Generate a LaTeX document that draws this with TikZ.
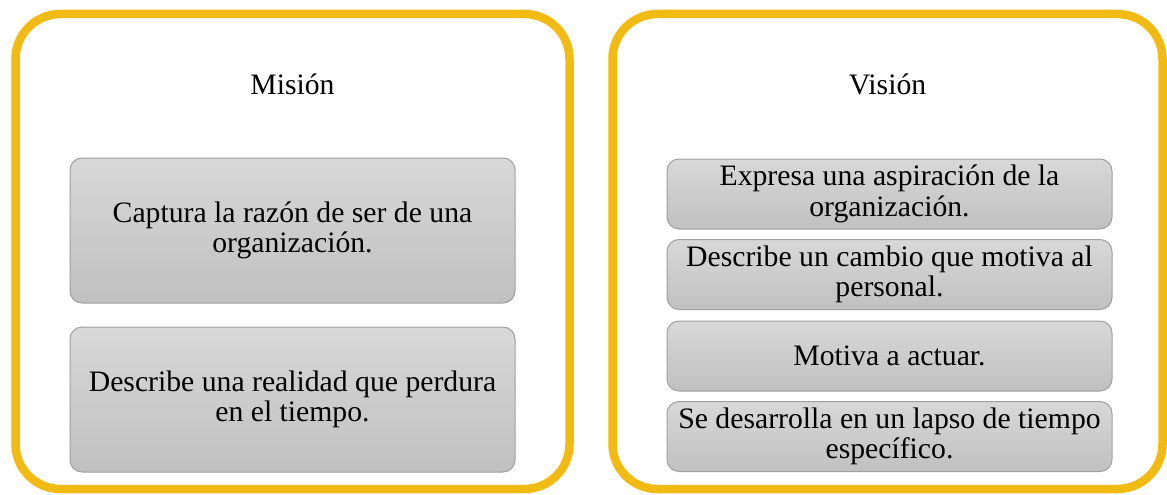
\documentclass[tikz,border=0pt]{standalone}
\usepackage{fontspec}
\setmainfont{Liberation Serif}
\definecolor{ylw}{RGB}{242,187,19}
\definecolor{gtop}{RGB}{216,216,216}
\definecolor{gbot}{RGB}{192,192,192}
\definecolor{bgray}{RGB}{160,160,160}
\begin{document}
\begin{tikzpicture}[x=1pt,y=-1pt,
  frame/.style={draw=ylw, line width=8.5pt, rounded corners=45pt, inner sep=0pt, outer sep=0pt},
  item/.style={draw=bgray, line width=1pt, rounded corners=12pt, top color=gtop, bottom color=gbot,
    align=center, font=\fontsize{29.7}{30.5}\selectfont, inner sep=0pt, minimum width=445pt},
  ttl/.style={font=\fontsize{29.7}{30.5}\selectfont, anchor=base, inner sep=0pt}]
\useasboundingbox (0,0) rectangle (1167,495);
\node[frame, minimum width=554pt, minimum height=475pt] (mframe) at (292.5,251.5) {};
\node[frame, minimum width=550pt, minimum height=475pt] (vframe) at (887.5,251.5) {};
\node[ttl] (mtitle) at (292.5,95) {Misión};
\node[ttl] (vtitle) at (887.5,95) {Visión};
\node[item, minimum height=145pt] (m1) at (292.5,230.5) {Captura la razón de ser de una\\organización.};
\node[item, minimum height=145pt] (m2) at (292.5,399.5) {Describe una realidad que perdura\\en el tiempo.};
\node[item, minimum height=70pt] (v1) at (889.5,194) {Expresa una aspiración de la\\organización.};
\node[item, minimum height=70pt] (v2) at (889.5,274.5) {Describe un cambio que motiva al\\personal.};
\node[item, minimum height=70pt] (v3) at (889.5,356) {Motiva a actuar.};
\node[item, minimum height=70pt] (v4) at (889.5,436.5) {Se desarrolla en un lapso de tiempo\\específico.};
\end{tikzpicture}
\end{document}
